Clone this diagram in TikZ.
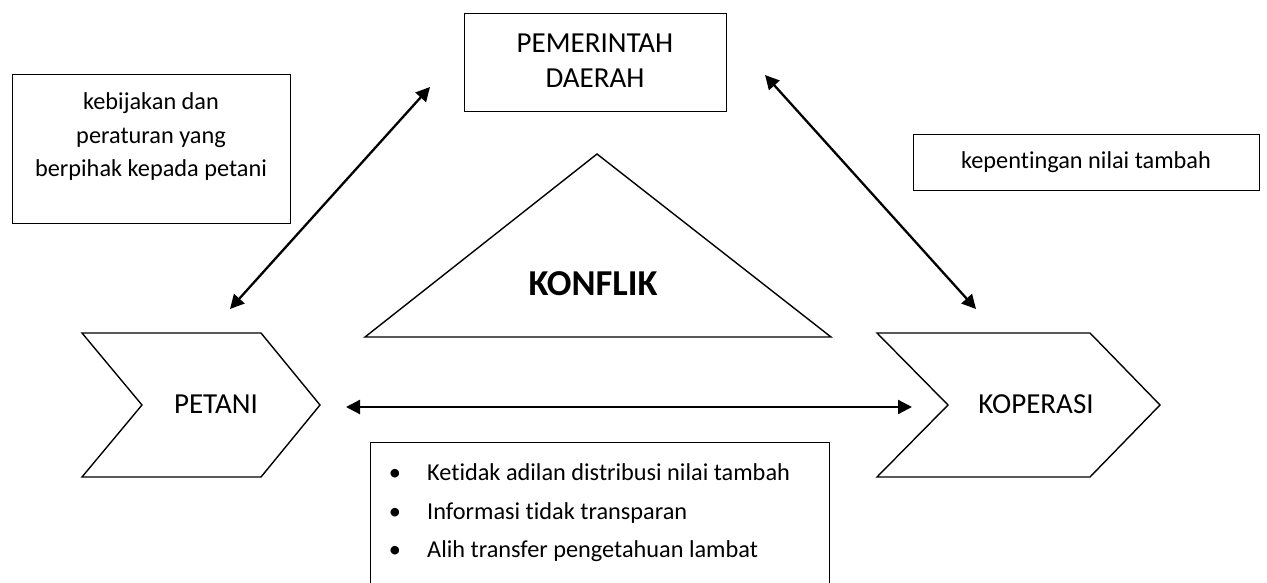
\documentclass[tikz,border=0pt]{standalone}
\usepackage{fontspec}
\setmainfont{Carlito}[Ligatures=NoCommon]
\usetikzlibrary{arrows.meta}
\begin{document}
\begin{tikzpicture}[x=1pt,y=-1pt,
  box/.style={draw, line width=1.4pt, inner sep=0pt},
  conn/.style={line width=2.3pt, {Triangle[length=14pt,width=14pt]}-{Triangle[length=14pt,width=14pt]}},
  small/.style={font=\fontsize{24.3}{33}\selectfont, inner sep=0pt},
  caps/.style={font=\fontsize{29}{33}\selectfont, inner sep=0pt},
  title/.style={font=\fontsize{36.5}{40}\selectfont\bfseries, inner sep=0pt}]
\useasboundingbox (0,0) rectangle (1267,583);

% boxes
\node[box, minimum width=278pt, minimum height=149pt, anchor=north west] (kebijakan) at (12,74) {};
\node[box, minimum width=262pt, minimum height=98pt, anchor=north west] (pemda) at (464,13) {};
\node[box, minimum width=346pt, minimum height=56pt, anchor=north west] (nilai) at (913,134) {};
\node[box, minimum width=459pt, minimum height=170pt, anchor=north west] (list) at (370,442) {};

% chevrons and triangle
\draw[line width=1.4pt, line join=miter] (82,333) -- (261,333) -- (320,405) -- (261,477) -- (82,477) -- (142,405) -- cycle;
\draw[line width=1.4pt, line join=miter] (877,333) -- (1090,333) -- (1160,405) -- (1090,477) -- (877,477) -- (948,405) -- cycle;
\draw[line width=1.4pt, line join=miter] (597,154) -- (831,337) -- (365,337) -- cycle;

% texts
\node[small, anchor=base] (k1) at (151,110) {kebijakan dan};
\node[small, anchor=base] (k2) at (151,144) {peraturan yang};
\node[small, anchor=base] (k3) at (151,177) {berpihak kepada petani};
\node[caps, anchor=base] (p1) at (595,53) {PEMERINTAH};
\node[caps, anchor=base] (p2) at (595,88) {DAERAH};
\node[small, anchor=base] (n1) at (1086,169) {kepentingan nilai tambah};
\node[title, anchor=base] (konflik) at (593,295) {KONFLIK};
\node[caps, anchor=base] (petani) at (216,413) {PETANI};
\node[caps, anchor=base] (koperasi) at (1036,413) {KOPERASI};

\node[small, anchor=base] (b1) at (395,480) {•};
\node[small, anchor=base] (b2) at (395,519) {•};
\node[small, anchor=base] (b3) at (395,557) {•};
\node[small, anchor=base west] (l1) at (427,480) {Ketidak adilan distribusi nilai tambah};
\node[small, anchor=base west] (l2) at (427,519) {Informasi tidak transparan};
\node[small, anchor=base west] (l3) at (427,557) {Alih transfer pengetahuan lambat};

% connector ends
\coordinate (aP) at (230,309);
\coordinate (aG1) at (430,87);
\coordinate (aG2) at (765,75);
\coordinate (aK) at (976,309);
\coordinate (hP) at (346,407);
\coordinate (hK) at (912,407);

\draw[conn] (aP) -- (aG1);
\draw[conn] (aG2) -- (aK);
\draw[conn] (hP) -- (hK);
\end{tikzpicture}
\end{document}
